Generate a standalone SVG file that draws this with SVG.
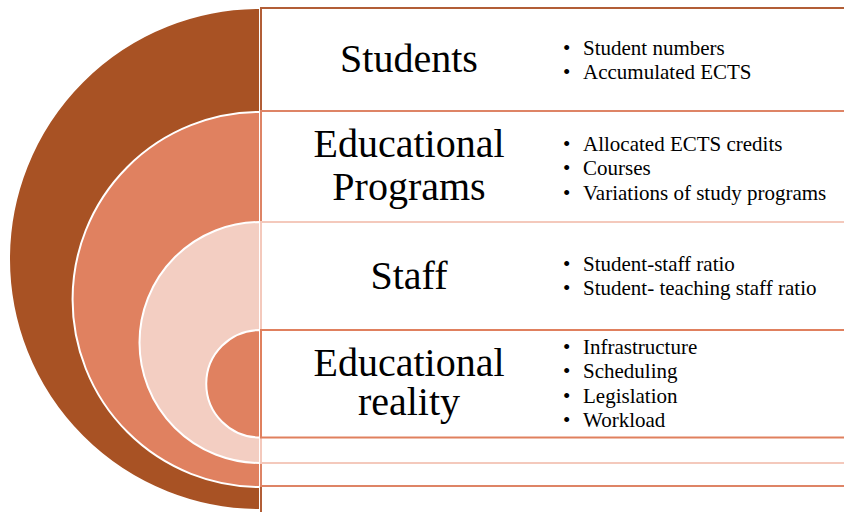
<svg xmlns="http://www.w3.org/2000/svg" width="844" height="512" viewBox="0 0 844 512">
<style>
.bg{fill:#ffffff}
.ring{stroke:#ffffff;stroke-width:2}
.c1{fill:#A85224}
.c2{fill:#E08160}
.c3{fill:#F3CEC2}
.c4{fill:#E08160}
.box{fill:#ffffff;stroke-width:2}
.b1{stroke:#B25E36}
.b2{stroke:#DE8466}
.b3{stroke:#F4C9BC}
.b4{stroke:#E0805E}
.title{font-family:"Liberation Serif","Times New Roman",serif;font-size:40px;fill:#000;text-anchor:middle}
.item{font-family:"Liberation Serif","Times New Roman",serif;font-size:21px;fill:#000}
</style>
<rect class="bg" x="0" y="0" width="844" height="512"/>
<g id="rings">
<path class="ring c1" d="M260 8 A251 251 0 0 0 260 510 Z"/>
<path class="ring c2" d="M260 112 A187.5 187.5 0 0 0 260 487 Z"/>
<path class="ring c3" d="M260 222 A120.5 120.5 0 0 0 260 463 Z"/>
<path class="ring c4" d="M260 330 A53.75 53.75 0 0 0 260 437.5 Z"/>
</g>
<g id="node-students">
<rect class="box b1" x="261" y="8" width="600" height="515"/>
</g>
<g id="node-programs">
<rect class="box b2" x="261" y="111" width="600" height="375"/>
</g>
<g id="node-staff">
<rect class="box b3" x="261" y="222" width="600" height="241"/>
</g>
<g id="node-reality">
<rect class="box b4" x="261" y="330" width="600" height="107.5"/>
</g>
<g id="labels-students">
<text class="title" x="409" y="72">Students</text>
<text class="item" x="563" y="55">•</text><text class="item" x="583" y="55">Student numbers</text>
<text class="item" x="563" y="79">•</text><text class="item" x="583" y="79">Accumulated ECTS</text>
</g>
<g id="labels-programs">
<text class="title" x="409" y="157">Educational</text>
<text class="title" x="409" y="200">Programs</text>
<text class="item" x="563" y="151">•</text><text class="item" x="583" y="151">Allocated ECTS credits</text>
<text class="item" x="563" y="175">•</text><text class="item" x="583" y="175">Courses</text>
<text class="item" x="563" y="200">•</text><text class="item" x="583" y="200">Variations of study programs</text>
</g>
<g id="labels-staff">
<text class="title" x="409" y="289">Staff</text>
<text class="item" x="563" y="271">•</text><text class="item" x="583" y="271">Student-staff ratio</text>
<text class="item" x="563" y="295">•</text><text class="item" x="583" y="295">Student- teaching staff ratio</text>
</g>
<g id="labels-reality">
<text class="title" x="409" y="376">Educational</text>
<text class="title" x="409" y="415">reality</text>
<text class="item" x="563" y="354">•</text><text class="item" x="583" y="354">Infrastructure</text>
<text class="item" x="563" y="378">•</text><text class="item" x="583" y="378">Scheduling</text>
<text class="item" x="563" y="403">•</text><text class="item" x="583" y="403">Legislation</text>
<text class="item" x="563" y="427">•</text><text class="item" x="583" y="427">Workload</text>
</g>
</svg>
